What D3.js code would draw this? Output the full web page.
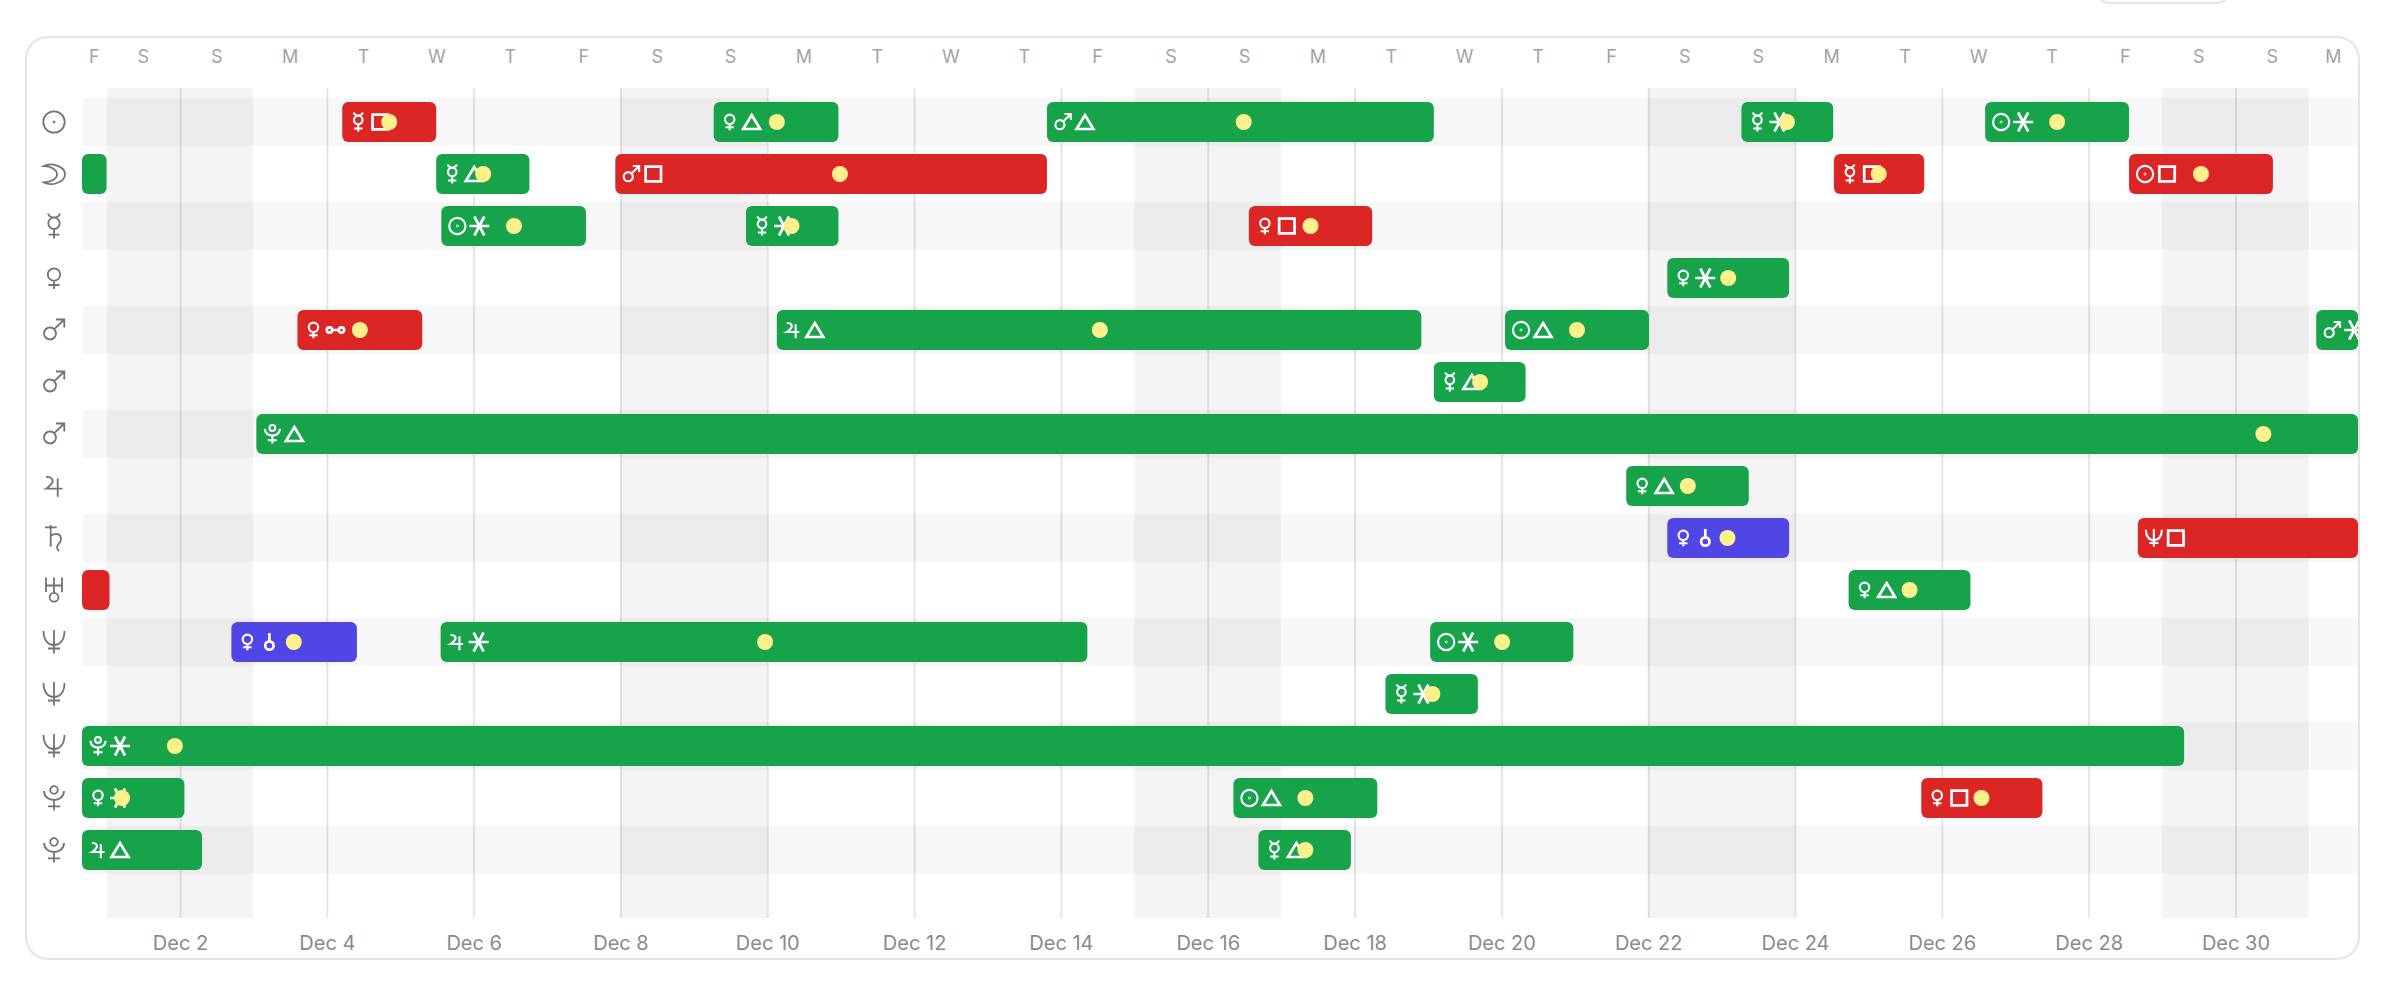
<!DOCTYPE html>
<html>
<head>
<meta charset="utf-8">
<script src="https://d3js.org/d3.v7.min.js"></script>
<style>
html, body { margin: 0; background: #fff; overflow: hidden; }
text { font-family: Inter, sans-serif; }
.icon { fill: none; vector-effect: non-scaling-stroke; }
</style>
</head>
<body>
<div id="chart"></div>
<script>
var width = 2392,
height = 986;

// row glyphs, top to bottom
var rowGlyphs = ["☉", "☽", "☿", "♀", "♂", "♂", "♂", "♃", "♄", "♅", "♆", "♆", "♆", "♇", "♇"];

// weekday initials, one for each day from Nov 30 to Dec 31
var weekdayLabels = ["F","S","S","M","T","W","T","F","S","S","M","T","W","T","F","S","S","M","T","W","T","F","S","S","M","T","W","T","F","S","S","M"];
var weekendStarts = [1, 8, 15, 22, 29];
var tickDays = [2, 4, 6, 8, 10, 12, 14, 16, 18, 20, 22, 24, 26, 28, 30];

// visible range, in days of December (1.5 = noon on Dec 1)
var dayStart = 0.665,
dayEnd = 31.669;

// one entry per bar
var barRow = [0,0,0,0,0, 1,1,1,1,1, 2,2,2, 3, 4,4,4,4, 5, 6, 7, 8,8, 9,9, 10,10,10, 11, 12, 13,13,13, 14,14];
var barStart = [4.21,9.27,13.81,23.27,26.59, 0.665,5.49,7.93,24.53,28.55, 5.56,9.71,16.56, 22.26, 3.60,10.13,20.05,31.10, 19.08, 3.04, 21.70, 22.26,28.67, 0.665,24.73, 2.70,5.55,19.03, 18.42, 0.665, 0.665,16.35,25.72, 0.665,16.69];
var barEnd = [5.49,10.97,19.08,24.52,28.55, 1.00,6.76,13.81,25.76,30.51, 7.53,10.97,18.24, 23.92, 5.30,18.91,22.01,31.669, 20.33, 31.669, 23.37, 23.92,31.669, 1.04,26.39, 4.41,14.36,20.98, 19.68, 29.30, 2.06,18.31,27.37, 2.30,17.95];
var barPeak = [4.85,10.13,16.49,23.89,27.57, null,6.13,10.99,25.14,29.53, 6.55,10.33,17.40, 23.09, 4.45,14.53,21.03,null, 19.71, 30.38, 22.54, 23.08,null, null,25.56, 3.55,9.97,20.01, 19.06, 1.93, 1.21,17.33,26.54, null,17.33];
var barBody = ["☿","♀","♂","☿","☉", "","☿","♂","☿","☉", "☉","☿","♀", "♀", "♀","♃","☉","♂", "☿", "♇", "♀", "♀","♆", "","♀", "♀","♃","☉", "☿", "♇", "♀","☉","♀", "♃","☿"];
var barAspect = ["□","△","△","⚹","⚹", "","△","□","□","□", "⚹","⚹","□", "⚹", "☍","△","△","⚹", "△", "△", "△", "⚷","□", "","△", "⚷","⚹","⚹", "⚹", "⚹", "⚹","△","□", "△","△"];
var barKind = ["hard","soft","soft","soft","soft", "soft","soft","hard","hard","hard", "soft","soft","hard", "soft", "hard","soft","soft","soft", "soft", "soft", "soft", "other","hard", "hard","soft", "other","soft","soft", "soft", "soft", "soft","soft","hard", "soft","soft"];

var kindColor = { soft: "#16a34a", hard: "#dc2626", other: "#4f46e5" };

function ring(cx, cy, r) {
	return "M" + (cx - r) + "," + cy + "a" + r + "," + r + " 0 1,0 " + (2 * r) + ",0a" + r + "," + r + " 0 1,0 " + (-2 * r) + ",0";
}

// the fonts here have no usable astrological glyphs, so they are drawn as strokes
var glyphPaths = {
	"☉": ring(0, 0, 10.7) + ring(0, 0, 0.5),
	"☽": "M-10,-8C-3,-12 11,-8 11,0.3C11,8.5 -3,12.5 -10,8.5C-3,8 3,5 3,0.3C3,-4 -3,-8 -10,-8Z",
	"☿": "M-6,-12.5C-5,-9.5 -3,-8.5 0,-8.5C3,-8.5 5,-9.5 6,-12.5" + ring(0, -2.7, 5.7) + "M0,3V12.5M-5.5,8.6H5.5",
	"♀": ring(0, -3.5, 6.2) + "M0,2.7V11M-5.5,7H5.5",
	"♂": ring(-4, 3.5, 6) + "M0.3,-0.8L10.3,-10.5M2,-10.5H10.3V-2.5",
	"♃": "M-8,-9C-3,-10 0,-6 -2,-3C-3.5,-0.5 -6,1.5 -8,2.7H8.5M3.7,-7.5V10.7",
	"♄": "M-3.3,-13V8.7M-9,-10.7H2.7M-3.3,-2C2,-6 7,-4 7,1C7,5 3,7 3,9C3,11 4,12 5,13",
	"♅": "M-8,-12.5V2M8,-12.5V2M-8,-4.5H8M0,-12.5V2.8" + ring(0, 7.2, 4.4),
	"♆": "M-10.5,-11C-10.5,-2 -6,3 0,3C6,3 10.5,-2 10.5,-11M0,-12V11.5M-6,6.5H6",
	"♇": ring(0, -8, 3.8) + "M-10,-7C-10,-1 -5,2 0,2C5,2 10,-1 10,-7M0,2V12.5M-6,8.3H6",
	"□": "M-7.7,-7.4H7.7V7.4H-7.7Z",
	"△": "M0,-7L8.4,7H-8.4Z",
	"⚹": "M-10,0H10M-5,-9.5L5,9.5M5,-9.5L-5,9.5",
	"☍": ring(-6, 0, 2.7) + ring(6, 0, 2.7) + "M-3.3,0H3.3",
	"⚷": ring(0, 3.5, 4.2) + "M0,-0.7V-9"
};

var svg = d3.select("#chart")
.append("svg")
.attr("width", width)
.attr("height", height)
.style("display", "block");

var xScale = d3.scaleLinear()
.domain([dayStart, dayEnd])
.range([82, 2358]);

var yScale = d3.scaleBand()
.domain(d3.range(rowGlyphs.length))
.range([96, 876]);

var top_y = 88,
bottom_y = 918;

svg.append("clipPath")
.attr("id", "plot-clip")
.append("rect")
.attr("x", 82)
.attr("y", 0)
.attr("width", 2276)
.attr("height", height);

// bit of the button above the card
svg.append("rect")
.attr("x", 2097)
.attr("y", -30)
.attr("width", 132)
.attr("height", 33)
.attr("rx", 12)
.attr("fill", "#fff")
.attr("stroke", "#e5e5e5")
.attr("stroke-width", 2);

svg.append("rect")
.attr("x", 26)
.attr("y", 37)
.attr("width", 2333)
.attr("height", 922)
.attr("rx", 22)
.attr("fill", "#fff")
.attr("stroke", "#e5e5e5")
.attr("stroke-width", 2);

// stripes on every other row
svg.selectAll(".stripe")
.data(d3.range(0, rowGlyphs.length, 2))
.enter()
.append("rect")
.attr("class", "stripe")
.attr("x", xScale(dayStart))
.attr("y", function(d) { return yScale(d) + 2 })
.attr("width", xScale(dayEnd) - xScale(dayStart))
.attr("height", yScale.bandwidth() - 4)
.attr("rx", 4)
.attr("fill", "#000")
.attr("fill-opacity", 0.03);

svg.selectAll(".weekend")
.data(weekendStarts)
.enter()
.append("rect")
.attr("class", "weekend")
.attr("x", function(d) { return xScale(d) })
.attr("y", top_y)
.attr("width", function(d) { return xScale(d + 2) - xScale(d) })
.attr("height", bottom_y - top_y)
.attr("fill", "#000")
.attr("fill-opacity", 0.045);

var axis = d3.axisBottom(xScale)
.tickValues(tickDays)
.tickSize(-(bottom_y - top_y))
.tickPadding(18)
.tickFormat(function(d) { return "Dec " + d });

var axis_g = svg.append("g")
.attr("transform", "translate(0," + bottom_y + ")")
.call(axis);

axis_g.select(".domain").remove();
axis_g.selectAll("line")
.attr("stroke", "#000")
.attr("stroke-opacity", 0.1)
.attr("stroke-width", 2);
axis_g.selectAll("text")
.attr("fill", "#8a8a8a")
.style("font-family", "Inter, sans-serif")
.style("font-size", "20px");

// weekday letter sits in the middle of the visible part of its day
svg.selectAll(".weekday")
.data(weekdayLabels)
.enter()
.append("text")
.attr("class", "weekday")
.text(function(d) { return d })
.attr("x", function(d, i) {
	return xScale((Math.max(i, dayStart) + Math.min(i + 1, dayEnd)) / 2)
})
.attr("y", 62.5)
.attr("text-anchor", "middle")
.attr("font-size", "18px")
.attr("fill", "#a3a3a3");

function addIcon(parent, glyph, x, y, scale, color, stroke) {
	var icon = parent.append("path")
	.attr("class", "icon")
	.attr("d", glyphPaths[glyph])
	.attr("transform", "translate(" + x + "," + y + ") scale(" + scale + ")")
	.attr("stroke", color)
	.attr("stroke-width", stroke);
	icon.append("title").text(glyph);
}

var rows = svg.append("g");
rowGlyphs.forEach(function(g, i) {
	addIcon(rows, g, 54, yScale(i) + yScale.bandwidth() / 2, 1, "#737373", 1.8);
});

var plot = svg.append("g")
.attr("clip-path", "url(#plot-clip)");

var bars = plot.selectAll(".bar")
.data(barRow)
.enter()
.append("g")
.attr("class", "bar");

bars.append("rect")
.attr("x", function(d, i) { return xScale(barStart[i]) })
.attr("y", function(d) { return yScale(d) + 6 })
.attr("width", function(d, i) { return xScale(barEnd[i]) - xScale(barStart[i]) })
.attr("height", 40)
.attr("rx", 6)
.attr("fill", function(d, i) { return kindColor[barKind[i]] });

bars.each(function(d, i) {
	var bar = d3.select(this),
	x0 = xScale(barStart[i]),
	cy = yScale(d) + yScale.bandwidth() / 2;

	if (barBody[i]) {
		addIcon(bar, barBody[i], x0 + 16, cy, 0.76, "#fff", 2.1);
		addIcon(bar, barAspect[i], x0 + 38, cy, 1, "#fff", 2.7);
	}

	if (barPeak[i] !== null) {
		bar.append("circle")
		.attr("cx", xScale(barPeak[i]))
		.attr("cy", cy)
		.attr("r", 8)
		.attr("fill", "#fef08a");
	}
});
</script>
</body>
</html>
